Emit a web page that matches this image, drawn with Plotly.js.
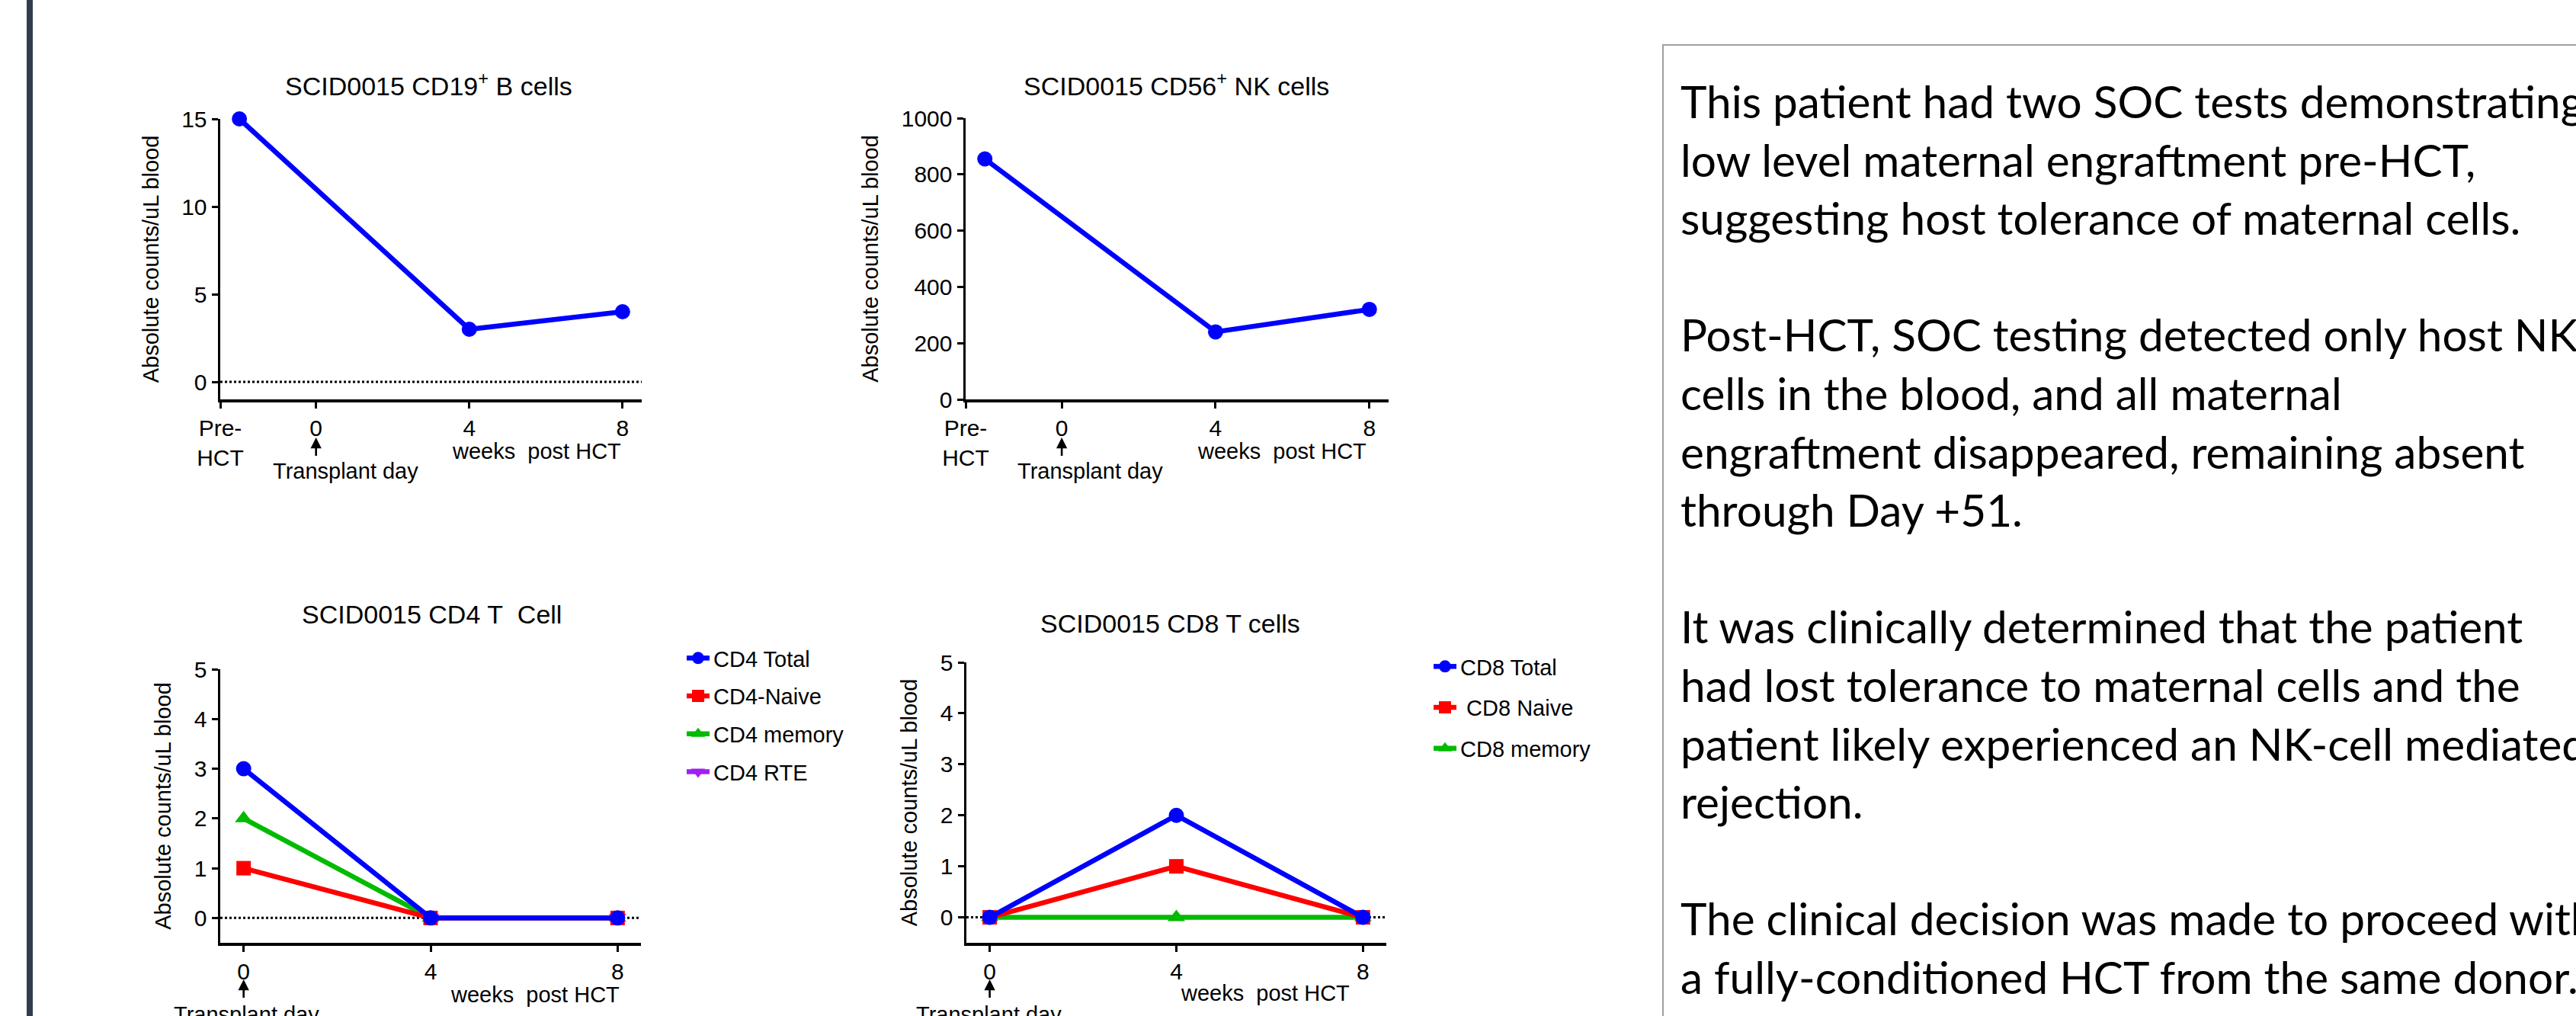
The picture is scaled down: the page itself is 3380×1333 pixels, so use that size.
<!DOCTYPE html>
<html><head><meta charset="utf-8">
<script src="https://cdn.plot.ly/plotly-3.0.1.min.js"></script>
<style>html,body{margin:0;padding:0;background:#fff;overflow:hidden}#chart{width:3380px;height:1333px}</style>
</head><body><div id="chart"></div>
<script>
// ---------------- data ----------------
const preWeeks = [-2, 4, 8];
const bCells = [15, 3, 4];
const nkCells = [855, 240, 320];
const tWeeks = [0, 4, 8];
const cd4Total = [3, 0, 0];
const cd4Naive = [1, 0, 0];
const cd4Memory = [2, 0, 0];
const cd4RTE = [null, 0, 0];
const cd8Total = [0, 2, 0];
const cd8Naive = [0, 1, 0];
const cd8Memory = [0, 0, 0];
const preTickVals = [-2.5, 0, 4, 8];
const preTickText = ['Pre-<br>HCT', '0', '4', '8'];
const tTickVals = [0, 4, 8];
const tTickText = ['0', '4', '8'];
const panelTitles = ['SCID0015 CD19<sup>+</sup> B cells', 'SCID0015 CD56<sup>+</sup> NK cells',
                     'SCID0015 CD4 T\u00a0 Cell', 'SCID0015 CD8 T cells'];
const cd4Names = ['CD4 Total', 'CD4-Naive', 'CD4 memory', 'CD4 RTE'];
const cd8Names = ['CD8 Total', '\u00a0CD8 Naive', 'CD8 memory'];
const yTitle = 'Absolute counts/uL blood';
const xNote = 'weeks\u00a0 post HCT';
const transplantNote = 'Transplant day';
const textLines = [
  'This patient had two SOC tests demonstrating',
  'low level maternal engraftment pre-HCT,',
  'suggesting host tolerance of maternal cells.',
  '',
  'Post-HCT, SOC testing detected only host NK',
  'cells in the blood, and all maternal',
  'engraftment disappeared, remaining absent',
  'through Day +51.',
  '',
  'It was clinically determined that the patient',
  'had lost tolerance to maternal cells and the',
  'patient likely experienced an NK-cell mediated',
  'rejection.',
  '',
  'The clinical decision was made to proceed with',
  'a fully-conditioned HCT from the same donor.'
];

// ---------------- styling ----------------
const W = 3380, H = 1333;
const px = v => v / W;
const py = v => 1 - v / H;
const FONT = 'Liberation Sans, Arial, sans-serif';
const BLUE = '#0000FF', RED = '#FF0000', GREEN = '#00BB00', PURPLE = '#A020F0';
const LW = 6.5, MS = 20;
const FS = 30;

function xAxis(d0, d1, range, vals, text, anchor) {
  return {domain: [px(d0), px(d1)], range: range, anchor: anchor, tickmode: 'array', tickvals: vals, ticktext: text,
    showline: true, linewidth: 3.5, linecolor: '#000', ticks: 'outside', ticklen: 8, tickwidth: 3, tickcolor: '#000',
    showgrid: false, zeroline: false, tickfont: {family: FONT, size: FS, color: '#000'}, fixedrange: true};
}
function yAxis(top, bottom, range, dtick, anchor) {
  return {domain: [py(bottom), py(top)], range: range, anchor: anchor, dtick: dtick, tick0: 0,
    showline: true, linewidth: 3.5, linecolor: '#000', ticks: 'outside', ticklen: 8, tickwidth: 3, tickcolor: '#000',
    showgrid: false, zeroline: false, tickfont: {family: FONT, size: FS, color: '#000'}, fixedrange: true,
    title: {text: yTitle, font: {family: FONT, size: 29, color: '#000'}, standoff: 22}};
}
function line(x, y, xa, ya, color, symbol, name, legend, rank, show) {
  return {type: 'scatter', mode: 'lines+markers', x: x, y: y, xaxis: xa, yaxis: ya, name: name,
    line: {color: color, width: LW}, marker: {color: color, size: symbol === 'square' ? 19 : MS, symbol: symbol},
    showlegend: show, legend: legend, legendrank: rank, legendgroup: name, cliponaxis: false};
}

const data = [
  line(preWeeks, bCells, 'x', 'y', BLUE, 'circle', 'B', 'legend', 1, false),
  line(preWeeks, nkCells, 'x2', 'y2', BLUE, 'circle', 'NK', 'legend', 1, false),
  line(tWeeks, cd4RTE, 'x3', 'y3', PURPLE, 'triangle-down', cd4Names[3], 'legend', 4, true),
  line(tWeeks, cd4Memory, 'x3', 'y3', GREEN, 'triangle-up', cd4Names[2], 'legend', 3, true),
  line(tWeeks, cd4Naive, 'x3', 'y3', RED, 'square', cd4Names[1], 'legend', 2, true),
  line(tWeeks, cd4Total, 'x3', 'y3', BLUE, 'circle', cd4Names[0], 'legend', 1, true),
  line(tWeeks, cd8Memory, 'x4', 'y4', GREEN, 'triangle-up', cd8Names[2], 'legend2', 3, true),
  line(tWeeks, cd8Naive, 'x4', 'y4', RED, 'square', cd8Names[1], 'legend2', 2, true),
  line(tWeeks, cd8Total, 'x4', 'y4', BLUE, 'circle', cd8Names[0], 'legend2', 1, true)
];

const ann = [];
const titleFont = {family: FONT, size: 34, color: '#000'};
const titlePos = [[562, 110], [1543, 110], [566, 806], [1535, 818]];
panelTitles.forEach((t, i) => ann.push({text: t, xref: 'paper', yref: 'paper', x: px(titlePos[i][0]), y: py(titlePos[i][1]),
  xanchor: 'center', yanchor: 'middle', showarrow: false, font: titleFont}));
// transplant day arrows + text, weeks notes
const noteFont = {family: FONT, size: 29, color: '#000'};
const arrowDefs = [['x', 574, 453, 618, 5.75, 592], ['x2', 574, 1430, 618, 5.72, 592],
                   ['x3', 1285, 323, 1331, 6.23, 1305], ['x4', 1285, 1297, 1331, 5.9, 1303]];
arrowDefs.forEach(a => {
  ann.push({text: ' ', xref: a[0], yref: 'paper', x: 0, y: py(a[1]), showarrow: true, ax: 0, ay: 26,
    arrowhead: 2, arrowsize: 1.1, arrowwidth: 2.6, arrowcolor: '#000', standoff: 0, startstandoff: 0,
    font: {size: 1}});
  ann.push({text: transplantNote, xref: 'paper', yref: 'paper', x: px(a[2]), y: py(a[3]), xanchor: 'center', yanchor: 'middle',
    showarrow: false, font: noteFont});
  ann.push({text: xNote, xref: a[0], yref: 'paper', x: a[4], y: py(a[5]), xanchor: 'center', yanchor: 'middle',
    showarrow: false, font: noteFont});
});
// text box
textLines.forEach((t, i) => { if (t) ann.push({text: t, xref: 'paper', yref: 'paper', x: px(2203), y: py(132 + 76.6 * i),
  xanchor: 'left', yanchor: 'middle', showarrow: false, font: {family: 'Lato, Carlito, sans-serif', size: 58.5, color: '#000'}}); });

const dotted = ax => ({type: 'line', xref: ax[0] + ' domain', yref: ax[1], x0: 0, x1: 1, y0: 0, y1: 0, layer: 'below',
  line: {color: '#000', width: 3, dash: 'dot'}});

const layout = {
  width: W, height: H, margin: {l: 0, r: 0, t: 0, b: 0}, paper_bgcolor: '#fff', plot_bgcolor: 'rgba(0,0,0,0)',
  font: {family: FONT, color: '#000'},
  xaxis: xAxis(289, 842, [-2.5, 8.5], preTickVals, preTickText, 'y'),
  yaxis: yAxis(156, 524, [-1, 15], 5, 'x'),
  xaxis2: xAxis(1267, 1822, [-2.5, 8.5], preTickVals, preTickText, 'y2'),
  yaxis2: yAxis(155, 524, [0, 1000], 200, 'x2'),
  xaxis3: xAxis(289, 841, [-0.5, 8.5], tTickVals, tTickText, 'y3'),
  yaxis3: yAxis(878, 1237, [-0.5, 5], 1, 'x3'),
  xaxis4: xAxis(1268, 1819, [-0.5, 8.5], tTickVals, tTickText, 'y4'),
  yaxis4: yAxis(869, 1237, [-0.5, 5], 1, 'x4'),
  legend: {x: px(896), y: py(838), xanchor: 'left', yanchor: 'top', font: {family: FONT, size: 29, color: '#000'},
    tracegroupgap: 9, bgcolor: 'rgba(0,0,0,0)', traceorder: 'grouped'},
  legend2: {x: px(1876), y: py(849), xanchor: 'left', yanchor: 'top', font: {family: FONT, size: 29, color: '#000'},
    tracegroupgap: 13, bgcolor: 'rgba(0,0,0,0)', traceorder: 'grouped'},
  shapes: [
    dotted(['x', 'y']), dotted(['x3', 'y3']), dotted(['x4', 'y4']),
    {type: 'rect', xref: 'paper', yref: 'paper', x0: px(35), x1: px(43), y0: 0, y1: 1, fillcolor: '#323E4F', line: {width: 0}},
    {type: 'rect', xref: 'paper', yref: 'paper', x0: px(2182), x1: px(3420), y0: py(1380), y1: py(59), fillcolor: 'rgba(0,0,0,0)',
      line: {color: '#A0A0A0', width: 2}}
  ],
  annotations: ann,
  showlegend: true
};

Plotly.newPlot('chart', data, layout, {staticPlot: true, displayModeBar: false});
</script></body></html>
